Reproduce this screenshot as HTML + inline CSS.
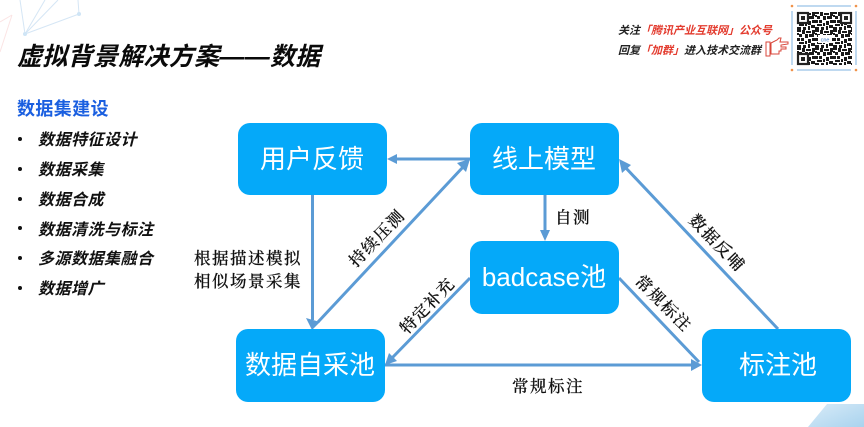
<!DOCTYPE html>
<html lang="zh">
<head>
<meta charset="utf-8">
<style>
html,body{margin:0;padding:0;background:#fff}
svg{display:block}
.s{font-family:"Liberation Sans","Noto Sans CJK SC",sans-serif}
.l{font-family:"Noto Serif CJK SC","Liberation Serif",serif;font-size:16.5px;font-weight:500;fill:#111;stroke:#111;stroke-width:.2}
.n{font-family:"Liberation Sans","Noto Sans CJK SC",sans-serif;font-size:26px;fill:#fff;text-anchor:middle}
.b{font-family:"Liberation Sans","Noto Sans CJK SC",sans-serif;font-size:16px;font-weight:700;font-style:italic;fill:#111;letter-spacing:.5px}
.h{font-family:"Liberation Sans","Noto Sans CJK SC",sans-serif;font-size:11px;font-weight:700;font-style:italic;fill:#222}
.r{fill:#e33b2e}
.e{stroke:#5b9bd5;stroke-width:3;fill:none}
</style>
</head>
<body>
<svg width="864" height="427" viewBox="0 0 864 427" xmlns="http://www.w3.org/2000/svg">
<defs>
<pattern id="q" width="18" height="18" patternUnits="userSpaceOnUse" x="797" y="12">
<rect width="18" height="18" fill="#fff"/>
<path d="M0 0h4v2H0zM5 0h3v4H5zM9 1h5v2H9zM15 0h3v4h-3zM0 3h2v2H0zM2 4h3v3H2zM8 4h3v4H8zM12 4h5v3h-5zM0 8h3v3H0zM4 8h3v3H4zM11 9h3v4h-3zM15 8h3v3h-3zM2 12h5v2H2zM8 11h2v3H8zM14 13h4v3h-4zM0 15h4v3H0zM6 15h3v3H6zM11 14h2v4h-2z" fill="#1a1a1a"/>
</pattern>
<linearGradient id="bg" x1="0" y1="0" x2="1" y2="1"><stop offset="0" stop-color="#d8ebf8"/><stop offset="1" stop-color="#a9d3ee"/></linearGradient>
</defs>

<rect width="864" height="427" fill="#fff"/>

<!-- background decoration -->
<g stroke="#d5e6f5" stroke-width="1" fill="none">
<path d="M25 34 L20 0 M25 34 L45 0 M25 34 L79 14 M25 34 L58 0 M79 14 L78 0"/>
</g>
<circle cx="25" cy="34" r="2" fill="#cfe5f6"/>
<circle cx="79" cy="14" r="2" fill="#cfe5f6"/>
<path d="M12 15 L0 22 M12 15 L0 52" stroke="#fbe4e4" stroke-width="1" fill="none"/>
<path d="M808 427 L827 404 L864 404 L864 427Z" fill="url(#bg)"/>

<!-- title -->
<text class="s" x="17" y="65" font-size="25" font-weight="700" font-style="italic" fill="#0a0a0a" letter-spacing=".3">虚拟背景解决方案——数据</text>

<!-- left list -->
<text class="s" x="17" y="115" font-size="18" font-weight="700" fill="#1a5fe0" letter-spacing=".4">数据集建设</text>
<g fill="#111">
<circle cx="20" cy="139" r="2"/><circle cx="20" cy="169" r="2"/><circle cx="20" cy="199" r="2"/>
<circle cx="20" cy="228" r="2"/><circle cx="20" cy="258" r="2"/><circle cx="20" cy="288" r="2"/>
</g>
<text class="b" x="38" y="145">数据特征设计</text>
<text class="b" x="38" y="175">数据采集</text>
<text class="b" x="38" y="205">数据合成</text>
<text class="b" x="38" y="235">数据清洗与标注</text>
<text class="b" x="38" y="264">多源数据集融合</text>
<text class="b" x="38" y="294">数据增广</text>

<!-- header promo -->
<text class="h" x="618" y="34">关注<tspan class="r">「腾讯产业互联网」公众号</tspan></text>
<text class="h" x="618" y="54">回复<tspan class="r">「加群」</tspan>进入技术交流群</text>
<path d="M766 42 h4 v14 h-4z M771 43 l6 -3 l2 -2 h2 l-1 4 h8 v2 l-7 1 v2 h5 v2 h-5 v2 h-2 v3 h-8z" fill="#fff" stroke="#d9473b" stroke-width="1"/>

<!-- QR -->
<path d="M797 6H851M792 11V65M856 11V65M797 70H851" stroke="#7fb3e0" stroke-width="1" fill="none"/>
<g fill="#f0924a">
<circle cx="792" cy="6" r="1.3"/><circle cx="856" cy="6" r="1.3"/><circle cx="792" cy="70" r="1.3"/><circle cx="856" cy="70" r="1.3"/>
</g>
<rect x="797" y="12" width="55" height="53" fill="url(#q)"/>
<g fill="#fff" stroke="#222" stroke-width="2.2">
<rect x="798" y="13" width="10" height="10"/><rect x="841" y="13" width="10" height="10"/><rect x="798" y="54" width="10" height="10"/>
</g>
<g fill="#222"><rect x="801" y="16" width="4" height="4"/><rect x="844" y="16" width="4" height="4"/><rect x="801" y="57" width="4" height="4"/></g>
<rect x="818" y="35" width="14" height="8" fill="#fff"/>
<text x="825" y="41.5" font-family="Liberation Sans,sans-serif" font-size="5.5" fill="#3b78c4" text-anchor="middle">cne</text>

<!-- connectors -->
<g class="e">
<line x1="470" y1="159" x2="395" y2="159"/>
<line x1="312.500" y1="195" x2="312.500" y2="320"/>
<line x1="318" y1="322" x2="464" y2="166"/>
<line x1="545" y1="195" x2="545" y2="233"/>
<line x1="470" y1="278" x2="392" y2="358"/>
<line x1="385" y1="365" x2="694" y2="365"/>
<line x1="619" y1="278" x2="699" y2="362"/>
<line x1="778" y1="329" x2="625" y2="167"/>
</g>
<g fill="#5b9bd5">
<path d="M387 159 L397 154 V164Z"/>
<path d="M312 330 L306 318 L320 322Z"/>
<path d="M470 159 L466 172 L457 163Z"/>
<path d="M545 241 L540 230 H550Z"/>
<path d="M385 365 L389 353 L397 361Z"/>
<path d="M702 365 L691 359 V371Z"/>
<path d="M619 159 L631 165 L622 173Z"/>
</g>

<!-- nodes -->
<g fill="#05a9f9">
<rect x="238" y="123" width="149" height="72" rx="12"/>
<rect x="470" y="123" width="149" height="72" rx="12"/>
<rect x="470" y="241" width="149" height="73" rx="12"/>
<rect x="236" y="329" width="149" height="73" rx="12"/>
<rect x="702" y="329" width="149" height="73" rx="12"/>
</g>
<text class="n" x="312" y="168">用户反馈</text>
<text class="n" x="544" y="168">线上模型</text>
<text class="n" x="544" y="286">badcase池</text>
<text class="n" x="310" y="374">数据自采池</text>
<text class="n" x="778" y="374">标注池</text>

<!-- labels -->
<g class="l">
<text x="194" y="264" letter-spacing="1.500">根据描述模拟</text>
<text x="194" y="287" letter-spacing="1.500">相似场景采集</text>
<text x="555" y="223" letter-spacing="1.500">自测</text>
<text x="512" y="392" letter-spacing="1.500">常规标注</text>
<text transform="translate(356 268) rotate(-46)" letter-spacing="1.500">持续压测</text>
<text transform="translate(407 335) rotate(-46)" letter-spacing="1">特定补充</text>
<text transform="translate(634 282) rotate(45)" letter-spacing="1.500">常规标注</text>
<text transform="translate(688 221) rotate(46)" letter-spacing="1.500">数据反哺</text>
</g>
</svg>
</body>
</html>
